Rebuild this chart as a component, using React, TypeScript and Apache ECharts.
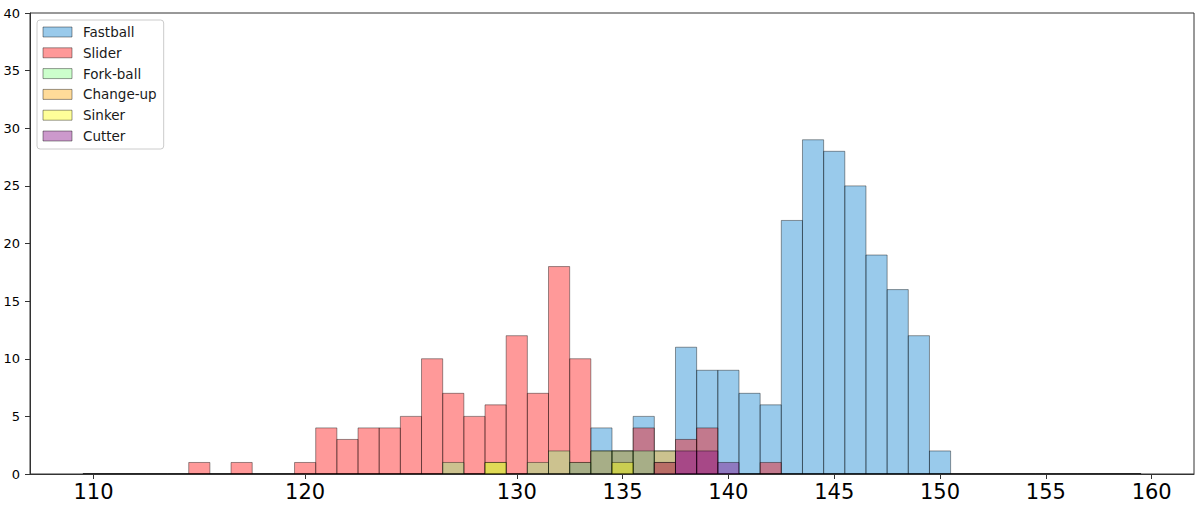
import React, { useEffect, useRef } from "react";
import * as echarts from "echarts";

// Histogram bins: centered on integer km/h values, width 1
const BIN_CENTERS: number[] = Array.from({ length: 50 }, (_, i) => 110 + i);

const SERIES_NAMES = ["Fastball", "Slider", "Fork-ball", "Change-up", "Sinker", "Cutter"];

// counts per bin, bins 110 .. 159
const FASTBALL = [
  0, 0, 0, 0, 0, 0, 0, 0, 0, 0,
  0, 0, 0, 0, 0, 0, 0, 0, 0, 0,
  0, 0, 0, 1, 4, 2, 5, 0, 11, 9,
  9, 7, 6, 22, 29, 28, 25, 19, 16, 12,
  2, 0, 0, 0, 0, 0, 0, 0, 0, 0,
];
const SLIDER = [
  0, 0, 0, 0, 0, 1, 0, 1, 0, 0,
  1, 4, 3, 4, 4, 5, 10, 7, 5, 6,
  12, 7, 18, 10, 2, 2, 4, 2, 3, 4,
  0, 0, 1, 0, 0, 0, 0, 0, 0, 0,
  0, 0, 0, 0, 0, 0, 0, 0, 0, 0,
];
const FORKBALL = [
  0, 0, 0, 0, 0, 0, 0, 0, 0, 0,
  0, 0, 0, 0, 0, 0, 0, 1, 0, 1,
  0, 1, 2, 1, 2, 2, 2, 2, 0, 0,
  0, 0, 0, 0, 0, 0, 0, 0, 0, 0,
  0, 0, 0, 0, 0, 0, 0, 0, 0, 0,
];
const CHANGEUP = [
  0, 0, 0, 0, 0, 0, 0, 0, 0, 0,
  0, 0, 0, 0, 0, 0, 0, 0, 0, 0,
  0, 0, 0, 0, 0, 0, 0, 1, 0, 0,
  0, 0, 0, 0, 0, 0, 0, 0, 0, 0,
  0, 0, 0, 0, 0, 0, 0, 0, 0, 0,
];
const SINKER = [
  0, 0, 0, 0, 0, 0, 0, 0, 0, 0,
  0, 0, 0, 0, 0, 0, 0, 0, 0, 1,
  0, 0, 0, 0, 0, 1, 0, 0, 0, 0,
  0, 0, 0, 0, 0, 0, 0, 0, 0, 0,
  0, 0, 0, 0, 0, 0, 0, 0, 0, 0,
];
const CUTTER = [
  0, 0, 0, 0, 0, 0, 0, 0, 0, 0,
  0, 0, 0, 0, 0, 0, 0, 0, 0, 0,
  0, 0, 0, 0, 0, 0, 0, 1, 2, 2,
  1, 0, 0, 0, 0, 0, 0, 0, 0, 0,
  0, 0, 0, 0, 0, 0, 0, 0, 0, 0,
];

const SERIES_COUNTS = [FASTBALL, SLIDER, FORKBALL, CHANGEUP, SINKER, CUTTER];
const SERIES_COLORS = [
  "rgba(0,122,204,0.4)",
  "rgba(255,0,0,0.4)",
  "rgba(128,255,128,0.4)",
  "rgba(255,165,0,0.4)",
  "rgba(255,255,0,0.4)",
  "rgba(128,0,128,0.4)",
];
const EDGE_COLOR = "rgba(0,0,0,0.4)";

const X_TICKS = [110, 120, 130, 135, 140, 145, 150, 155, 160];
const X_MIN = 107;
const X_MAX = 162;
const Y_MIN = 0;
const Y_MAX = 40;
const Y_INTERVAL = 5;

const FONT = "DejaVu Sans";

export default function App() {
  const ref = useRef<HTMLDivElement>(null);

  useEffect(() => {
    if (!ref.current) return;
    const chart = echarts.init(ref.current, undefined, { renderer: "svg" });

    const series = SERIES_NAMES.map((name, si) => {
      const fill = SERIES_COLORS[si];
      return {
        name,
        type: "custom",
        clip: true,
        encode: { x: 0, y: 1 },
        itemStyle: { color: fill, borderColor: EDGE_COLOR, borderWidth: 1 },
        data: BIN_CENTERS.map((b, i) => [b, SERIES_COUNTS[si][i]]),
        renderItem: (params: any, api: any) => {
          const x = api.value(0);
          const c = api.value(1);
          const lt = api.coord([x - 0.5, c]);
          const rb = api.coord([x + 0.5, 0]);
          if (c > 0) {
            return {
              type: "rect",
              shape: { x: lt[0], y: lt[1], width: rb[0] - lt[0], height: rb[1] - lt[1] },
              style: { fill, stroke: EDGE_COLOR, lineWidth: 1 },
            };
          }
          return {
            type: "line",
            shape: { x1: lt[0], y1: rb[1], x2: rb[0], y2: rb[1] },
            style: { stroke: EDGE_COLOR, lineWidth: 1 },
          };
        },
      };
    });

    chart.setOption({
      animation: false,
      grid: {
        left: 30,
        right: 6,
        top: 13,
        bottom: 32,
        show: true,
        borderColor: "#333",
        borderWidth: 1,
        backgroundColor: "transparent",
      },
      legend: {
        orient: "vertical",
        left: 37,
        top: 20,
        icon: "rect",
        itemWidth: 29,
        itemHeight: 10,
        itemGap: 4.8,
        padding: [4, 7, 5, 5.5],
        backgroundColor: "#fff",
        borderColor: "#ccc",
        borderWidth: 1,
        borderRadius: 3,
        selectedMode: false,
        textStyle: {
          fontFamily: FONT,
          fontSize: 13.5,
          color: "#1a1a1a",
          lineHeight: 16,
          padding: [0, 0, 0, 6],
        },
        data: SERIES_NAMES.map((name, si) => ({
          name,
          itemStyle: { color: SERIES_COLORS[si], borderColor: EDGE_COLOR, borderWidth: 1 },
        })),
      },
      xAxis: {
        type: "value",
        min: X_MIN,
        max: X_MAX,
        splitLine: { show: false },
        axisLine: { show: true, onZero: false, lineStyle: { color: "#333", width: 1 } },
        axisTick: { show: true, customValues: X_TICKS, length: 5, lineStyle: { color: "#333" } },
        axisLabel: {
          customValues: X_TICKS,
          fontFamily: FONT,
          fontSize: 21,
          color: "#000",
          margin: 7,
        },
      },
      yAxis: {
        type: "value",
        min: Y_MIN,
        max: Y_MAX,
        interval: Y_INTERVAL,
        splitLine: { show: false },
        axisLine: { show: true, lineStyle: { color: "#333", width: 1 } },
        axisTick: { show: true, length: 5, lineStyle: { color: "#333" } },
        axisLabel: {
          fontFamily: FONT,
          fontSize: 13,
          color: "#000",
          margin: 10,
        },
      },
      series,
    });

    return () => chart.dispose();
  }, []);

  return (
    <div
      ref={ref}
      style={{ position: "fixed", left: 0, top: 0, width: 1200, height: 506, background: "#fff" }}
    />
  );
}
